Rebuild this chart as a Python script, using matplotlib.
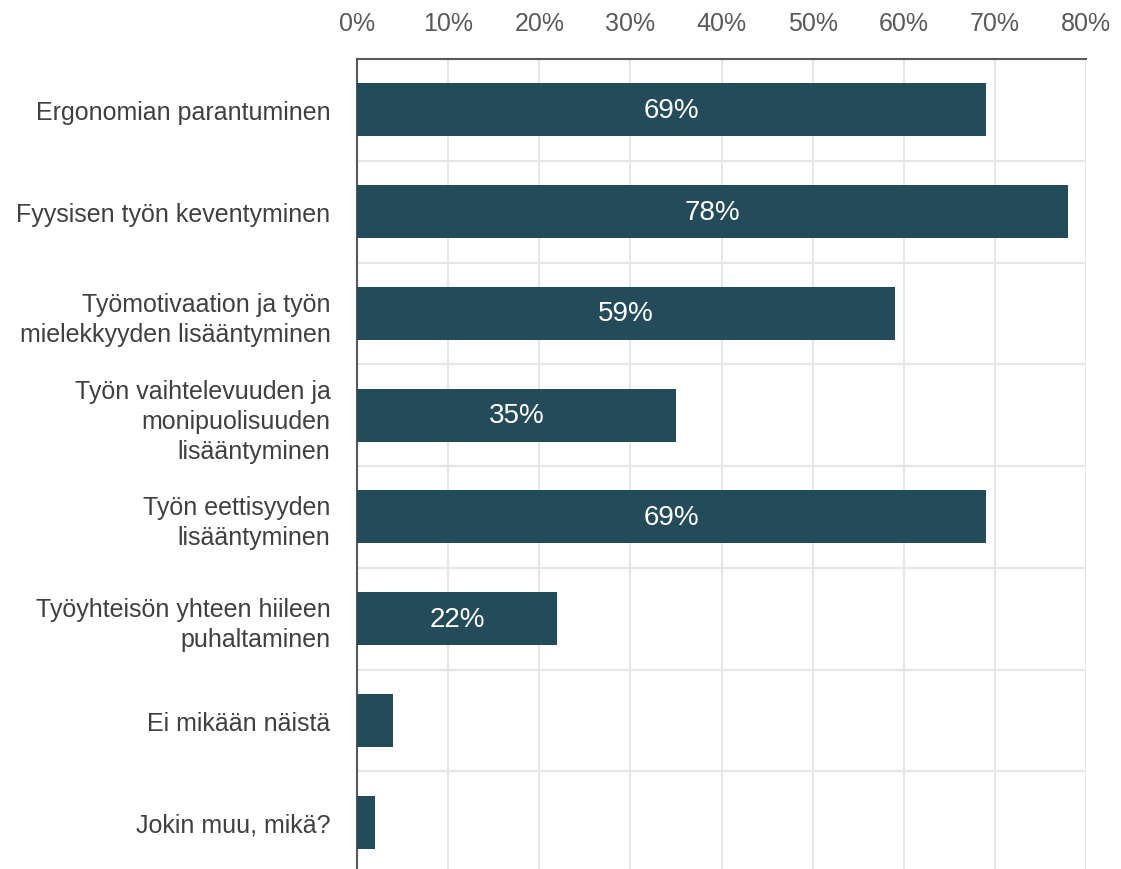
import matplotlib
matplotlib.use("Agg")
import matplotlib.pyplot as plt
from matplotlib.ticker import FuncFormatter, MultipleLocator

categories = [
    "Ergonomian parantuminen",
    "Fyysisen työn keventyminen",
    "Työmotivaation ja työn\nmielekkyyden lisääntyminen",
    "Työn vaihtelevuuden ja\nmonipuolisuuden\nlisääntyminen",
    "Työn eettisyyden\nlisääntyminen",
    "Työyhteisön yhteen hiileen\npuhaltaminen",
    "Ei mikään näistä",
    "Jokin muu, mikä?",
]
values = [69, 78, 59, 35, 69, 22, 4, 2]
labels = ["69%", "78%", "59%", "35%", "69%", "22%", "", ""]

plt.rcParams['font.family'] = ['Liberation Sans', 'DejaVu Sans']

fig = plt.figure(figsize=(11.21, 8.70), dpi=100)
ax = fig.add_axes([357/1121, -4/870, (1086-357)/1121, (870-60+4)/870])

bar_color = "#234B5A"
n = len(categories)
ypos = list(range(n))
ax.barh(ypos, values, height=0.52, color=bar_color, zorder=3)
for y, v, lab in zip(ypos, values, labels):
    if lab:
        ax.text(v/2, y, lab, ha="center", va="center", color="white", fontsize=20, zorder=4)

ax.set_ylim(n - 0.5, -0.5)
ax.set_xlim(0, 80)
ax.xaxis.set_major_locator(MultipleLocator(10))
ax.xaxis.set_major_formatter(FuncFormatter(lambda x, p: f"{int(round(x))}%"))
ax.xaxis.tick_top()
ax.tick_params(axis="x", length=0, pad=17, labelsize=18, colors="#595959")
ax.set_yticks(ypos)
ax.set_yticklabels(categories, fontsize=18, color="#404040", linespacing=1.32)
ax.tick_params(axis="y", length=0, pad=19)

ax.grid(axis="x", color="#E6E6E6", linewidth=1.5, zorder=0)
for b in [i + 0.5 for i in range(n - 1)]:
    ax.axhline(b, color="#E6E6E6", linewidth=1.5, zorder=0)

for s in ["right", "bottom"]:
    ax.spines[s].set_visible(False)
ax.spines["left"].set_color("#595959")
ax.spines["left"].set_linewidth(1.5)
ax.spines["top"].set_color("#595959")
ax.spines["top"].set_linewidth(1.5)

fig.savefig("out.png", dpi=100)
